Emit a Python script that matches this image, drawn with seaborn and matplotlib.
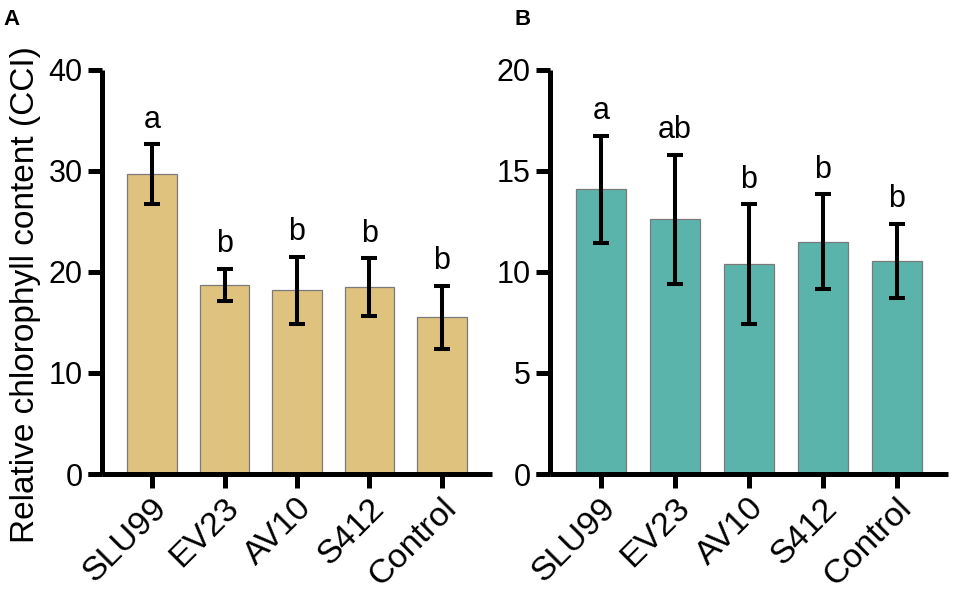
import matplotlib
matplotlib.use("Agg")
import matplotlib.pyplot as plt
import matplotlib.transforms as mtransforms
import seaborn as sns
import pandas as pd

sns.set_theme(style="white")
plt.rcParams['font.family'] = ['Liberation Sans', 'DejaVu Sans']
plt.rcParams['text.color'] = 'black'

categories = ["SLU99", "EV23", "AV10", "S412", "Control"]

a_means = [29.7, 18.7, 18.2, 18.5, 15.5]
a_errs = [2.95, 1.6, 3.3, 2.85, 3.15]
a_letters = ["a", "b", "b", "b", "b"]

b_means = [14.1, 12.6, 10.4, 11.5, 10.55]
b_errs = [2.65, 3.2, 2.95, 2.35, 1.85]
b_letters = ["a", "ab", "b", "b", "b"]

a_ticks = [0, 10, 20, 30, 40]
b_ticks = [0, 5, 10, 15, 20]

color_a = "#dfc27d"
color_b = "#5ab4ac"

W, H = 956, 599
fig = plt.figure(figsize=(W / 100, H / 100), dpi=100)

ax_a = fig.add_axes([102 / W, 1 - 474 / H, (492 - 102) / W, (474 - 70) / H])
ax_b = fig.add_axes([550 / W, 1 - 474 / H, (948 - 550) / W, (474 - 70) / H])

spine_lw = 3.6
tick_len = 10
fs = 22
xfs = 24.5


def draw(ax, means, errs, letters, ticks, color, ylabel=None):
    df = pd.DataFrame({"cat": categories, "val": means})
    sns.barplot(data=df, x="cat", y="val", order=categories, color=color,
                width=0.68, edgecolor="#7a7a7a", linewidth=0.9,
                errorbar=None, saturation=1, ax=ax)
    ax.errorbar(range(len(categories)), means, yerr=errs, fmt="none",
                ecolor="black", elinewidth=2.9, capsize=5.6, capthick=2.9,
                zorder=5)
    for i, (m, e, t) in enumerate(zip(means, errs, letters)):
        ax.annotate(t, (i, m + e), xytext=(0, 7), textcoords="offset points",
                    ha="center", va="bottom", fontsize=fs, color="black")
    ax.set_xlim(-0.69, len(categories) - 1 + 0.69)
    ax.set_ylim(ticks[0], ticks[-1])
    ax.set_yticks(ticks)
    ax.set_xlabel("")
    ax.set_ylabel("")
    for s in ["top", "right"]:
        ax.spines[s].set_visible(False)
    for s in ["left", "bottom"]:
        ax.spines[s].set_linewidth(spine_lw)
        ax.spines[s].set_color("black")
        ax.spines[s].set_capstyle("butt")
    # extend the x axis line to the left, as in the original
    bbox = ax.get_position()
    frac = (tick_len * 100 / 72) / (bbox.width * W)
    ax.plot([-frac, 0], [0, 0], transform=ax.transAxes, color="black",
            lw=spine_lw, clip_on=False, solid_capstyle="butt")
    ax.tick_params(axis="both", which="major", length=tick_len, width=spine_lw,
                   color="black", labelsize=fs, labelcolor="black",
                   direction="out", left=True, bottom=True, pad=4)
    ax.set_xticks(range(len(categories)))
    ax.set_xticklabels(categories, rotation=45, ha="right",
                       rotation_mode="anchor", va="center", fontsize=xfs)
    offset = mtransforms.ScaledTranslation(0.10, -0.10, fig.dpi_scale_trans)
    for lab in ax.get_xticklabels():
        lab.set_transform(lab.get_transform() + offset)
    ax.grid(False)
    if ylabel:
        ax.set_ylabel(ylabel, fontsize=24, color="black")
        ax.yaxis.set_label_coords(-0.157, 0.443)


draw(ax_a, a_means, a_errs, a_letters, a_ticks, color_a,
     ylabel="Relative chlorophyll content (CCI)")
draw(ax_b, b_means, b_errs, b_letters, b_ticks, color_b)

fig.text(3 / W, 1 - 25 / H, "A", fontsize=16, fontweight="bold")
fig.text(514 / W, 1 - 25 / H, "B", fontsize=16, fontweight="bold")

fig.savefig("out.png", dpi=100)
